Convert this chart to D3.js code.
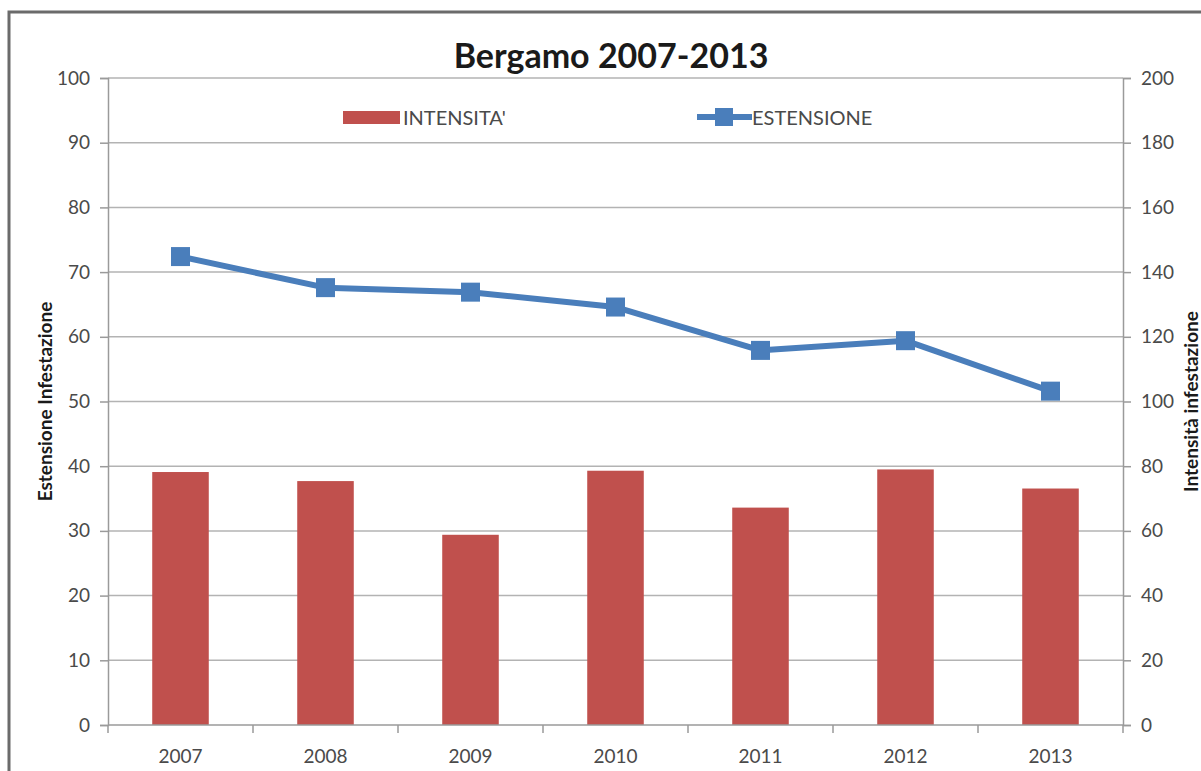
<!DOCTYPE html>
<html>
<head>
<meta charset="utf-8">
<script src="https://cdn.jsdelivr.net/npm/d3@7"></script>
<style>
  body { margin: 0; background: #fff; }
  svg text { font-family: Lato, "Open Sans", sans-serif; }
</style>
</head>
<body>
<div id="chart"></div>
<script>
// data
const years = ["2007", "2008", "2009", "2010", "2011", "2012", "2013"];
const intensita = [78.2, 75.4, 58.8, 78.6, 67.2, 79.0, 73.1];   // bars, right axis
const estensione = [72.4, 67.6, 66.9, 64.6, 57.9, 59.4, 51.6];  // line, left axis
const leftTicks = [0, 10, 20, 30, 40, 50, 60, 70, 80, 90, 100];
const rightTicks = [0, 20, 40, 60, 80, 100, 120, 140, 160, 180, 200];

const svgWidth = 1201;
const svgHeight = 771;
const margin = { top: 78, right: 78, bottom: 46, left: 108 };
const width = svgWidth - margin.left - margin.right;
const height = svgHeight - margin.top - margin.bottom;

const barColor = "#c0504d";
const lineColor = "#4a7ebb";
const gridColor = "#b3b3b3";
const textColor = "#4a4a4a";

const root = d3.select("#chart")
    .append("svg")
    .attr("width", svgWidth)
    .attr("height", svgHeight);

// outer chart border (only top and left visible in the crop)
root.append("path")
    .attr("d", `M9,${svgHeight} V12 H${svgWidth}`)
    .attr("fill", "none")
    .attr("stroke", "#6b6b6b")
    .attr("stroke-width", 3);

const svg = root.append("g")
    .attr("transform", `translate(${margin.left},${margin.top})`);

const xScale = d3.scaleBand()
    .domain(years)
    .range([0, width])
    .paddingInner(0.61)
    .paddingOuter(0.305);

const yLeft = d3.scaleLinear().domain([0, 100]).range([height, 0]);
const yRight = d3.scaleLinear().domain([0, 200]).range([height, 0]);

// gridlines
svg.append("g")
    .attr("class", "grid")
    .selectAll("line")
    .data(leftTicks.slice(1))
    .enter()
    .append("line")
    .attr("x1", 0)
    .attr("x2", width)
    .attr("y1", d => yLeft(d))
    .attr("y2", d => yLeft(d))
    .attr("stroke", gridColor)
    .attr("stroke-width", 1.5);

// bars
svg.selectAll(".bar")
    .data(intensita)
    .enter()
    .append("rect")
    .attr("class", "bar")
    .attr("x", (d, i) => xScale(years[i]))
    .attr("y", d => yRight(d))
    .attr("width", xScale.bandwidth())
    .attr("height", d => height - yRight(d))
    .attr("fill", barColor);

// axes
const yAxisLeft = d3.axisLeft(yLeft).tickValues(leftTicks).tickSize(8).tickPadding(10);
const yAxisRight = d3.axisRight(yRight).tickValues(rightTicks).tickSize(8).tickPadding(10);

const gl = svg.append("g").attr("class", "y-axis").call(yAxisLeft);
const gr = svg.append("g").attr("class", "y-axis-right")
    .attr("transform", `translate(${width},0)`)
    .call(yAxisRight);

[gl, gr].forEach(g => {
    g.select(".domain").attr("stroke", "#9a9a9a").attr("stroke-width", 1.5);
    g.selectAll(".tick line").attr("stroke", "#9a9a9a").attr("stroke-width", 1.5);
    g.selectAll(".tick text")
        .attr("fill", textColor)
        .style("font-size", "19px");
});

// x axis: line with ticks between categories
const step = xScale.step();
const xg = svg.append("g")
    .attr("class", "x-axis")
    .attr("transform", `translate(0,${height})`);

xg.append("line")
    .attr("x1", 0).attr("x2", width)
    .attr("stroke", "#9a9a9a").attr("stroke-width", 1.5);

xg.selectAll(".sep")
    .data(d3.range(years.length + 1))
    .enter()
    .append("line")
    .attr("x1", i => i * step)
    .attr("x2", i => i * step)
    .attr("y1", 0).attr("y2", 8)
    .attr("stroke", "#9a9a9a").attr("stroke-width", 1.5);

xg.selectAll(".lab")
    .data(years)
    .enter()
    .append("text")
    .attr("x", d => xScale(d) + xScale.bandwidth() / 2)
    .attr("y", 38)
    .attr("text-anchor", "middle")
    .attr("fill", textColor)
    .style("font-size", "19px")
    .text(d => d);

// line series
const line = d3.line()
    .x((d, i) => xScale(years[i]) + xScale.bandwidth() / 2)
    .y(d => yLeft(d));

svg.append("path")
    .datum(estensione)
    .attr("d", line)
    .attr("fill", "none")
    .attr("stroke", lineColor)
    .attr("stroke-width", 6)
    .attr("stroke-linejoin", "round");

const mk = 19;
svg.selectAll(".marker")
    .data(estensione)
    .enter()
    .append("rect")
    .attr("class", "marker")
    .attr("x", (d, i) => xScale(years[i]) + xScale.bandwidth() / 2 - mk / 2)
    .attr("y", d => yLeft(d) - mk / 2)
    .attr("width", mk)
    .attr("height", mk)
    .attr("fill", lineColor);

// title
root.append("text")
    .attr("x", 611)
    .attr("y", 68)
    .attr("text-anchor", "middle")
    .attr("fill", "#1a1a1a")
    .style("font-size", "34px")
    .style("font-weight", "bold")
    .text("Bergamo 2007-2013");

// legend
const legend = root.append("g");
legend.append("rect")
    .attr("x", 343).attr("y", 111)
    .attr("width", 57).attr("height", 13)
    .attr("fill", barColor);
legend.append("text")
    .attr("x", 403).attr("y", 125)
    .attr("fill", textColor)
    .style("font-size", "20px")
    .text("INTENSITA'");

legend.append("line")
    .attr("x1", 697).attr("x2", 752)
    .attr("y1", 117).attr("y2", 117)
    .attr("stroke", lineColor)
    .attr("stroke-width", 6);
legend.append("rect")
    .attr("x", 715).attr("y", 108)
    .attr("width", 18).attr("height", 18)
    .attr("fill", lineColor);
legend.append("text")
    .attr("x", 752).attr("y", 125)
    .attr("fill", textColor)
    .style("font-size", "20px")
    .text("ESTENSIONE");

// axis titles
root.append("text")
    .attr("transform", `translate(52,${margin.top + height / 2}) rotate(-90)`)
    .attr("text-anchor", "middle")
    .attr("fill", "#1a1a1a")
    .style("font-size", "19px")
    .style("font-weight", "bold")
    .text("Estensione Infestazione");

root.append("text")
    .attr("transform", `translate(1198,${margin.top + height / 2}) rotate(-90)`)
    .attr("text-anchor", "middle")
    .attr("fill", "#1a1a1a")
    .style("font-size", "19px")
    .style("font-weight", "bold")
    .text("Intensità infestazione");
</script>
</body>
</html>
